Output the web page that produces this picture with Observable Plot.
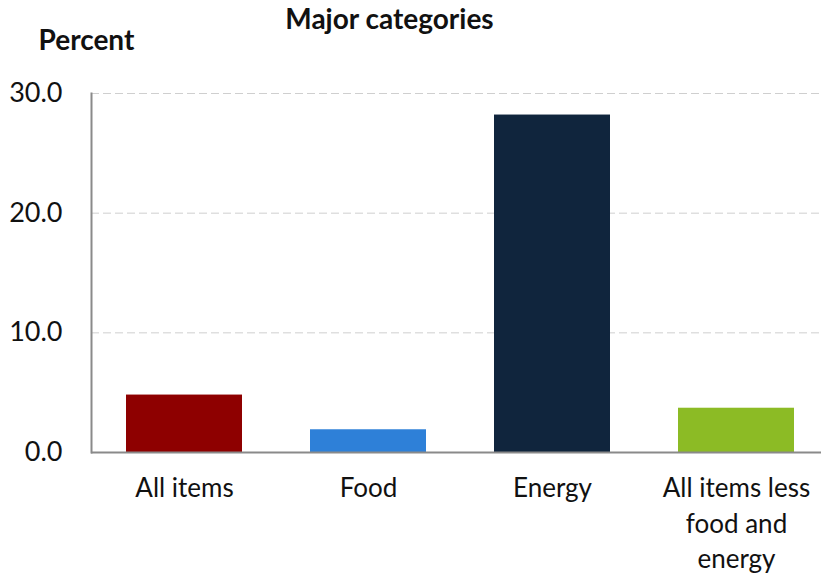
<!DOCTYPE html>
<html>
<head>
<meta charset="utf-8">
<script src="https://cdn.jsdelivr.net/npm/d3@7"></script>
<script src="https://cdn.jsdelivr.net/npm/@observablehq/plot@0.6"></script>
<style>
  html, body { margin: 0; padding: 0; background: #fff; }
  #chart { width: 821px; height: 576px; }
</style>
</head>
<body>
<div id="chart"></div>
<script>
const title = "Major categories";
const yTitle = "Percent";
const categories = ["All items", "Food", "Energy", "All items less food and energy"];
const tickLabels = ["All items", "Food", "Energy", "All items less\nfood and\nenergy"];
const values = [4.8, 1.9, 28.2, 3.7];
const colors = ["#8E0000", "#2E80D8", "#10253D", "#8CBB25"];
const yTicks = [0, 10, 20, 30];

const data = categories.map((c, i) => ({category: c, value: values[i], color: colors[i]}));
const labelOf = new Map(categories.map((c, i) => [c, tickLabels[i]]));

const font = "Lato, 'Open Sans', sans-serif";

const chart = Plot.plot({
  width: 821,
  height: 576,
  marginLeft: 91,
  marginRight: 0,
  marginTop: 93,
  marginBottom: 124,
  style: {fontFamily: font, background: "#fff", overflow: "visible"},
  x: {domain: categories, range: [92, 828], paddingInner: 0.37, paddingOuter: 0.185},
  y: {domain: [0, 30]},
  marks: [
    Plot.gridY(yTicks.filter(d => d > 0), {stroke: "#cfcfcf", strokeOpacity: 1, strokeDasharray: "8,4", strokeWidth: 1}),
    Plot.barY(data, {x: "category", y: "value", fill: "color"}),
    Plot.axisY(yTicks, {tickSize: 0, tickPadding: 29, tickFormat: d => d.toFixed(1), fontSize: 27, fill: "#111", label: null}),
    Plot.axisX({tickSize: 0, tickPadding: 20, tickFormat: d => labelOf.get(d), fontSize: 26, lineHeight: 1.35, fill: "#111", label: null}),
    Plot.ruleY([0], {stroke: "#8a8a8a", strokeWidth: 2}),
    Plot.frame({anchor: "left", stroke: "#8a8a8a", strokeWidth: 2}),
    Plot.text([title], {frameAnchor: "top-left", dx: 389 - 91, dy: 20 - 93, text: d => d, textAnchor: "middle", lineAnchor: "middle", fontSize: 28, fontWeight: "bold", fill: "#111"}),
    Plot.text([yTitle], {frameAnchor: "top-left", dx: 38 - 91, dy: 41 - 93, text: d => d, textAnchor: "start", lineAnchor: "middle", fontSize: 28, fontWeight: "bold", fill: "#111"})
  ]
});
document.getElementById("chart").appendChild(chart);
</script>
</body>
</html>
